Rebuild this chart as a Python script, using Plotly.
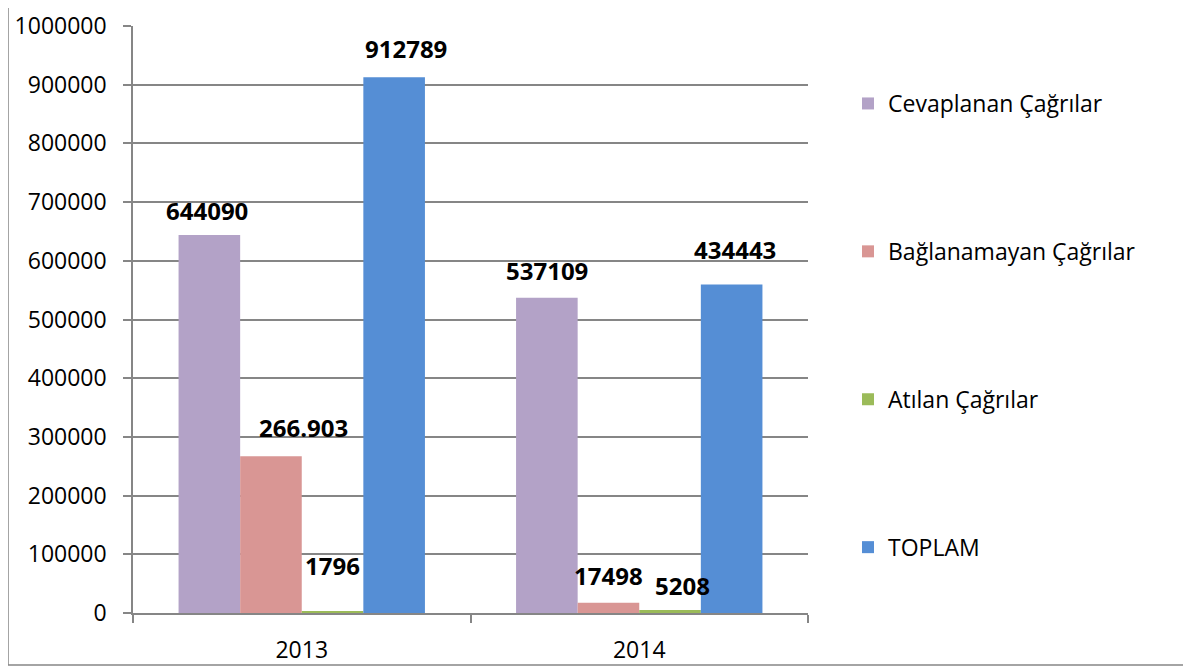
"""Yillara gore cagri istatistikleri - gruplu sutun grafigi."""

import plotly.graph_objects as go

years = ["2013", "2014"]
series_names = ["Cevaplanan Çağrılar", "Bağlanamayan Çağrılar", "Atılan Çağrılar", "TOPLAM"]
cevaplanan = [644090, 537109]
baglanamayan = [266903, 17498]
atilan = [1796, 5208]
toplam = [912789, 559815]
# labels as printed in the original chart (2014 TOPLAM label differs from bar)
cevaplanan_labels = ["644090", "537109"]
baglanamayan_labels = ["266.903", "17498"]
atilan_labels = ["1796", "5208"]
toplam_labels = ["912789", "434443"]

values = [cevaplanan, baglanamayan, atilan, toplam]
labels = [cevaplanan_labels, baglanamayan_labels, atilan_labels, toplam_labels]
colors = ["#B3A2C7", "#D99694", "#9BBB59", "#558ED5"]

# label nudges (px) per series / year, mimicking the hand-placed labels
label_dx = [[-2, 0], [33, 0], [0, 12], [12, 3]]
label_dy = [[24, 27], [29, 27], [46, 24], [29, 35]]

BARGAP = 0.27
FONT = "Open Sans"
GRID = "#868686"
OFF = 8  # page body margin

fig = go.Figure()

for name, vals, color in zip(series_names, values, colors):
    fig.add_trace(
        go.Bar(
            x=years,
            y=vals,
            name=name,
            legendgroup=name,
            marker=dict(color=color, line=dict(width=0)),
        )
    )

bar_w = (1 - BARGAP) / len(series_names)
annotations = []
for j, (vals, labs) in enumerate(zip(values, labels)):
    for i, (v, lab) in enumerate(zip(vals, labs)):
        annotations.append(
            dict(
                x=i + (j - 1.5) * bar_w,
                y=v,
                xref="x",
                yref="y",
                text=f"<b>{lab}</b>",
                showarrow=False,
                xshift=label_dx[j][i],
                yshift=label_dy[j][i],
                font=dict(family=FONT, size=24, color="black"),
            )
        )

# plot area in screenshot pixels
left, right, top, bottom = 133, 808, 26, 613
W, H = 1191 - OFF, 668 - OFF
pw, ph = right - left, bottom - top


def px_x(p):
    return (p - left) / pw


def px_y(p):
    return (bottom - p) / ph


fig.update_layout(
    width=W,
    height=H,
    barmode="group",
    bargap=BARGAP,
    bargroupgap=0,
    margin=dict(l=left - OFF, r=W - (right - OFF), t=top - OFF, b=H - (bottom - OFF)),
    plot_bgcolor="white",
    paper_bgcolor="white",
    font=dict(family=FONT, size=23, color="black"),
    annotations=annotations,
    xaxis=dict(
        type="category",
        automargin=False,
        showline=True,
        linecolor=GRID,
        linewidth=1.5,
        ticks="outside",
        tickson="boundaries",
        ticklen=8,
        tickcolor=GRID,
        tickwidth=1.5,
        showgrid=False,
        ticklabelstandoff=16,
        tickfont=dict(family=FONT, size=23),
    ),
    yaxis=dict(
        automargin=False,
        range=[0, 1000000],
        dtick=100000,
        tickformat="d",
        showline=True,
        linecolor=GRID,
        linewidth=1.5,
        showgrid=True,
        gridcolor=GRID,
        gridwidth=1.5,
        zeroline=False,
        ticks="outside",
        ticklen=8,
        tickcolor=GRID,
        tickwidth=1.5,
        ticklabelstandoff=12,
        tickfont=dict(family=FONT, size=23),
    ),
    legend=dict(
        x=px_x(848),
        y=px_y(82),
        xanchor="left",
        yanchor="top",
        tracegroupgap=115,
        font=dict(family=FONT, size=23),
        bgcolor="rgba(0,0,0,0)",
    ),
    shapes=[
        dict(
            type="rect",
            xref="paper",
            yref="paper",
            x0=px_x(8),
            x1=px_x(1185),
            y0=px_y(665),
            y1=px_y(4),
            line=dict(color=GRID, width=1.5),
            fillcolor="rgba(0,0,0,0)",
            layer="below",
        )
    ],
)

fig.write_html("out.html")
